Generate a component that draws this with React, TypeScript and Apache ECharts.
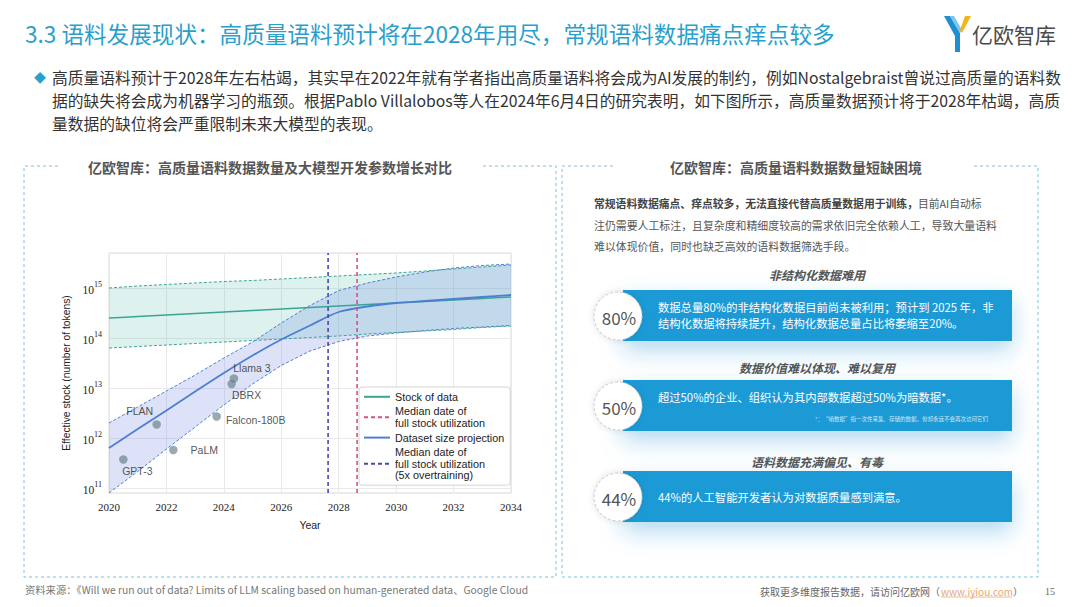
import React, { useEffect, useRef } from "react";
import * as echarts from "echarts";

// ---------- data (exponents of 10) ----------
const years = [2020, 2021, 2022, 2023, 2024, 2025, 2026, 2027, 2028, 2029, 2030, 2031, 2032, 2033, 2034];
const stockMedianExp = [14.40, 14.43, 14.46, 14.49, 14.52, 14.55, 14.58, 14.61, 14.64, 14.67, 14.70, 14.73, 14.76, 14.79, 14.82];
const stockLowExp = [13.80, 13.83, 13.86, 13.89, 13.92, 13.95, 13.98, 14.01, 14.04, 14.08, 14.11, 14.14, 14.17, 14.21, 14.24];
const stockHighExp = [15.00, 15.04, 15.07, 15.10, 15.13, 15.15, 15.18, 15.21, 15.24, 15.27, 15.30, 15.34, 15.38, 15.42, 15.46];
const projMedianExp = [11.80, 12.18, 12.55, 12.93, 13.30, 13.65, 13.97, 14.25, 14.52, 14.63, 14.70, 14.74, 14.78, 14.82, 14.86];
const projLowExp = [10.90, 11.33, 11.78, 12.22, 12.66, 13.08, 13.45, 13.74, 13.93, 14.04, 14.10, 14.15, 14.19, 14.22, 14.25];
const projHighExp = [12.30, 12.62, 12.94, 13.26, 13.60, 13.92, 14.30, 14.65, 14.95, 15.10, 15.22, 15.32, 15.40, 15.45, 15.48];

const modelNames = ["GPT-3", "FLAN", "PaLM", "Falcon-180B", "DBRX", "Llama 3"];
const modelYears = [2020.5, 2021.66, 2022.24, 2023.75, 2024.27, 2024.35];
const modelExp = [11.57, 12.27, 11.76, 12.43, 13.08, 13.19];

const fullUseDate = 2028.64;
const fullUseOvertrainDate = 2027.63;

const yMinExp = 10.9;
const yMaxExp = 15.7;
const xMin = 2020;
const xMax = 2034;

const legendNames = [
  "Stock of data",
  "Median date of full stock utilization",
  "Dataset size projection",
  "Median date of full stock utilization (5x overtraining)",
];
const legendLabels: Record<string, string> = {
  "Stock of data": "Stock of data",
  "Median date of full stock utilization": "Median date of\nfull stock utilization",
  "Dataset size projection": "Dataset size projection",
  "Median date of full stock utilization (5x overtraining)": "Median date of\nfull stock utilization\n(5x overtraining)",
};

// ---------- slide text ----------
const titleText = "3.3 语料发展现状：高质量语料预计将在2028年用尽，常规语料数据痛点痒点较多";
const bulletLines = [
  "高质量语料预计于2028年左右枯竭，其实早在2022年就有学者指出高质量语料将会成为AI发展的制约，例如Nostalgebraist曾说过高质量的语料数",
  "据的缺失将会成为机器学习的瓶颈。根据Pablo Villalobos等人在2024年6月4日的研究表明，如下图所示，高质量数据预计将于2028年枯竭，高质",
  "量数据的缺位将会严重限制未来大模型的表现。",
];
const leftPanelTitle = "亿欧智库：高质量语料数据数量及大模型开发参数增长对比";
const rightPanelTitle = "亿欧智库：高质量语料数据数量短缺困境";
const rightParaBold = "常规语料数据痛点、痒点较多，无法直接代替高质量数据用于训练，";
const rightParaLines = ["目前AI自动标", "注仍需要人工标注，且复杂度和精细度较高的需求依旧完全依赖人工，导致大量语料", "难以体现价值，同时也缺乏高效的语料数据筛选手段。"];
const cardSubtitles = ["非结构化数据难用", "数据价值难以体现、难以复用", "语料数据充满偏见、有毒"];
const cardPercents = ["80%", "50%", "44%"];
const cardLines = [
  ["数据总量80%的非结构化数据目前尚未被利用；预计到 2025 年，非", "结构化数据将持续提升，结构化数据总量占比将萎缩至20%。"],
  ["超过50%的企业、组织认为其内部数据超过50%为暗数据*。"],
  ["44%的人工智能开发者认为对数据质量感到满意。"],
];
const darkDataNote = "*：“暗数据”指一次性采集、存储的数据，但却永远不会再次访问它们";
const sourceText = "资料来源：《Will we run out of data? Limits of LLM scaling based on human-generated data、Google Cloud";
const footerPrefix = "获取更多维度报告数据，请访问亿欧网（";
const footerLink = "www.iyiou.com";
const pageNo = "15";

const p10 = (e: number) => Math.pow(10, e);

const CJK = '"Noto Sans CJK SC", "Noto Sans", sans-serif';
const SANS = '"Liberation Sans", Arial, sans-serif';
const SERIF = '"Liberation Serif", "DejaVu Serif", serif';

const TEAL = "#3aa597";
const TEAL_FILL = "rgba(85,190,175,0.20)";
const BLUE = "#4d7fd0";
const BLUE_FILL = "rgba(100,125,225,0.22)";
const PINK = "#d6517d";
const PURPLE = "#4a47b2";
const BORDER = "#7cc4da";
const CARD = "#1f9ad6";

function buildGraphic() {
  const g: any[] = [];
  // title
  g.push({ type: "text", x: 25, y: 33, style: { text: titleText, fill: "#2a9fcc", fontSize: 22.6, fontFamily: CJK, verticalAlign: "middle" } });
  // logo
  g.push({ type: "polygon", shape: { points: [[944, 16], [950, 16], [960, 33], [960, 52], [955, 52], [955, 36]] }, style: { fill: "#1f8fd2" } });
  g.push({ type: "polygon", shape: { points: [[950, 16], [954, 16], [962, 30], [960, 33]] }, style: { fill: "#7bc6ea" } });
  g.push({ type: "polygon", shape: { points: [[965, 16], [971, 16], [962, 33], [960, 30]] }, style: { fill: "#f2b51c" } });
  g.push({ type: "text", x: 972, y: 34, style: { text: "亿欧智库", fill: "#4a4a4a", fontSize: 21, fontFamily: CJK, verticalAlign: "middle" } });
  // bullet
  g.push({ type: "text", x: 34, y: 77, style: { text: "◆", fill: "#2a9fcc", fontSize: 12, fontFamily: CJK, verticalAlign: "middle" } });
  bulletLines.forEach((t, i) => {
    g.push({ type: "text", x: 52, y: 77 + i * 23, style: { text: t, fill: "#333", fontSize: 15.75, fontFamily: CJK, verticalAlign: "middle" } });
  });
  // panel borders
  const dash = { stroke: BORDER, lineWidth: 1, lineDash: [3, 3], fill: "none" };
  g.push({ type: "polyline", shape: { points: [[58, 166], [24, 166], [24, 577], [556, 577], [556, 166], [482, 166]] }, style: dash });
  g.push({ type: "polyline", shape: { points: [[613, 166], [562, 166], [562, 577], [1038, 577], [1038, 166], [973, 166]] }, style: dash });
  g.push({ type: "text", x: 270, y: 167, style: { text: leftPanelTitle, fill: "#555", fontSize: 14, fontWeight: "bold", fontFamily: CJK, align: "center", verticalAlign: "middle" } });
  g.push({ type: "text", x: 796, y: 167, style: { text: rightPanelTitle, fill: "#555", fontSize: 14, fontWeight: "bold", fontFamily: CJK, align: "center", verticalAlign: "middle" } });
  // right paragraph
  g.push({
    type: "text", x: 594, y: 203,
    style: {
      text: "{b|" + rightParaBold + "}{n|" + rightParaLines[0] + "}",
      fontFamily: CJK, verticalAlign: "middle",
      rich: { b: { fontSize: 10.8, fontWeight: "bold", fill: "#444", fontFamily: CJK }, n: { fontSize: 10.8, fill: "#555", fontFamily: CJK } },
    },
  });
  [rightParaLines[1], rightParaLines[2]].forEach((t, i) => {
    g.push({ type: "text", x: 594, y: 225 + i * 21, style: { text: t, fill: "#555", fontSize: 10.9, fontFamily: CJK, verticalAlign: "middle" } });
  });
  // cards
  const cardTops = [290, 380, 471];
  const subY = [274, 367, 461];
  cardTops.forEach((top, i) => {
    g.push({ type: "text", x: 817, y: subY[i], style: { text: cardSubtitles[i], fill: "#555", fontSize: 12, fontWeight: "bold", fontStyle: "italic", fontFamily: CJK, align: "center", verticalAlign: "middle" } });
    g.push({ type: "rect", shape: { x: 623, y: top, width: 389, height: 51 }, style: { fill: CARD, shadowBlur: 22, shadowOffsetY: 10, shadowColor: "rgba(40,150,215,0.35)" } });
    g.push({ type: "circle", shape: { cx: 618, cy: top + 26, r: 24 }, style: { fill: "#fff", stroke: "#c8c8c8", lineWidth: 1, lineDash: [3, 2], shadowBlur: 6, shadowColor: "rgba(0,0,0,0.12)" } });
    g.push({ type: "text", x: 619, y: top + 27, style: { text: cardPercents[i], fill: "#555", fontSize: 17, fontFamily: CJK, align: "center", verticalAlign: "middle" } });
    const lines = cardLines[i];
    const startY = lines.length === 2 ? top + 17 : top + (i === 1 ? 17 : 26);
    lines.forEach((t, j) => {
      g.push({ type: "text", x: 658, y: startY + j * 16, style: { text: t, fill: "#fff", fontSize: 11.3, fontFamily: CJK, verticalAlign: "middle" } });
    });
  });
  g.push({ type: "text", x: 988, y: 419, style: { text: darkDataNote, fill: "rgba(255,255,255,0.8)", fontSize: 5.5, fontFamily: CJK, align: "right", verticalAlign: "middle" } });
  // footers
  g.push({ type: "text", x: 25, y: 589, style: { text: sourceText, fill: "#777", fontSize: 10.3, fontFamily: CJK, verticalAlign: "middle" } });
  g.push({ type: "text", x: 940, y: 591, style: { text: footerPrefix, fill: "#666", fontSize: 10, fontFamily: CJK, align: "right", verticalAlign: "middle" } });
  g.push({ type: "text", x: 941, y: 591, style: { text: footerLink, fill: "#e8a873", fontSize: 10, fontFamily: CJK, verticalAlign: "middle" } });
  g.push({ type: "line", shape: { x1: 941, y1: 597, x2: 1012, y2: 597 }, style: { stroke: "#e8a873", lineWidth: 0.8 } });
  g.push({ type: "text", x: 1013, y: 591, style: { text: "）", fill: "#666", fontSize: 10, fontFamily: CJK, verticalAlign: "middle" } });
  g.push({ type: "text", x: 1050, y: 591, style: { text: pageNo, fill: "#666", fontSize: 10, fontFamily: SERIF, align: "center", verticalAlign: "middle" } });
  return g;
}

function bandArea(low: number[], high: number[], fill: string, z: number) {
  return {
    type: "custom", z, silent: true, clip: true,
    data: [[years[0], p10(low[0])]],
    renderItem: (_p: any, api: any) => {
      const top = years.map((y, i) => api.coord([y, p10(high[i])]));
      const bottom = years.map((y, i) => api.coord([y, p10(low[i])])).reverse();
      return { type: "polygon", shape: { points: top.concat(bottom) }, style: { fill } };
    },
  };
}

function edgeLine(name: string, vals: number[], color: string, z: number) {
  return {
    type: "line", name, z, symbol: "none", silent: true,
    lineStyle: { color, width: 1, type: [3, 2] },
    data: years.map((y, i) => [y, p10(vals[i])]),
  };
}

const hideSymbol = { opacity: 0 };

function buildOption() {
  const yMin = p10(yMinExp);
  const yMax = p10(yMaxExp);
  return {
    animation: false,
    backgroundColor: "#fff",
    grid: { left: 109, right: 1080 - 511, top: 253, bottom: 607 - 493, show: true, borderColor: "#dadada", borderWidth: 1, backgroundColor: "#fff" },
    xAxis: {
      type: "value", min: xMin, max: xMax, interval: 2,
      name: "Year", nameLocation: "middle", nameGap: 26,
      nameTextStyle: { fontFamily: SANS, fontSize: 10.5, color: "#222" },
      axisLine: { show: false }, axisTick: { show: false },
      axisLabel: { fontFamily: SERIF, fontSize: 11, color: "#222", margin: 8, formatter: (v: number) => String(v) },
      splitLine: { lineStyle: { color: "#e9e9e9" } },
    },
    yAxis: {
      type: "log", logBase: 10, min: yMin, max: yMax,
      name: "Effective stock (number of tokens)", nameLocation: "middle", nameGap: 38,
      nameTextStyle: { fontFamily: SANS, fontSize: 10.3, color: "#222" },
      axisLine: { show: false }, axisTick: { show: false },
      splitLine: { lineStyle: { color: "#e9e9e9" } },
      axisLabel: {
        margin: 7,
        formatter: (v: number) => {
          const e = Math.log10(v);
          const r = Math.round(e);
          if (Math.abs(e - r) > 1e-6) return "";
          return "{b|10}{s|" + r + "}";
        },
        rich: {
          b: { fontFamily: SERIF, fontSize: 11.5, color: "#222", lineHeight: 15, verticalAlign: "bottom" },
          s: { fontFamily: SERIF, fontSize: 8, color: "#222", lineHeight: 9, verticalAlign: "top" },
        },
      },
    },
    legend: {
      data: legendNames,
      orient: "vertical", left: 359, top: 387,
      itemWidth: 26, itemHeight: 10, itemGap: 3,
      padding: [4, 6, 4, 4],
      backgroundColor: "rgba(255,255,255,0.95)", borderColor: "#d4d4d4", borderWidth: 1, borderRadius: 3,
      selectedMode: false,
      formatter: (n: string) => legendLabels[n] || n,
      textStyle: { fontFamily: SANS, fontSize: 10.8, color: "#222", lineHeight: 11.6 },
    },
    graphic: buildGraphic(),
    series: [
      bandArea(stockLowExp, stockHighExp, TEAL_FILL, 1),
      bandArea(projLowExp, projHighExp, BLUE_FILL, 1),
      edgeLine("stock-low", stockLowExp, TEAL, 2),
      edgeLine("stock-high", stockHighExp, TEAL, 2),
      edgeLine("proj-low", projLowExp, BLUE, 3),
      edgeLine("proj-high", projHighExp, BLUE, 3),
      {
        type: "line", name: legendNames[0], z: 4, smooth: 0.3, symbol: "none",
        lineStyle: { color: TEAL, width: 1.5 }, itemStyle: { color: TEAL, ...hideSymbol },
        data: years.map((y, i) => [y, p10(stockMedianExp[i])]),
      },
      {
        type: "line", name: legendNames[2], z: 5, smooth: 0.3, symbol: "none",
        lineStyle: { color: BLUE, width: 1.8 }, itemStyle: { color: BLUE, ...hideSymbol },
        data: years.map((y, i) => [y, p10(projMedianExp[i])]),
      },
      {
        type: "line", name: legendNames[1], z: 6, symbol: "none",
        lineStyle: { color: PINK, width: 1.6, type: [4, 3] }, itemStyle: { color: PINK, ...hideSymbol },
        data: [[fullUseDate, yMin], [fullUseDate, yMax]],
      },
      {
        type: "line", name: legendNames[3], z: 6, symbol: "none",
        lineStyle: { color: PURPLE, width: 1.6, type: [4, 3] }, itemStyle: { color: PURPLE, ...hideSymbol },
        data: [[fullUseOvertrainDate, yMin], [fullUseOvertrainDate, yMax]],
      },
      {
        type: "scatter", name: "models", z: 7, symbolSize: 8.5,
        itemStyle: { color: "rgba(100,125,135,0.82)" },
        label: { show: true, position: "inside", fontFamily: SANS, fontSize: 10.5, color: "#2a2a2a", formatter: (p: any) => p.name },
        data: modelNames.map((n, i) => ({ name: n, value: [modelYears[i], p10(modelExp[i])], label: { offset: labelOffsets[i] } })),
      },
    ],
  };
}

const labelOffsets = [[14, 11], [-17, -14], [31, 0], [39, 3], [15, 11], [18, -11]];

export default function App() {
  const ref = useRef<HTMLDivElement>(null);
  useEffect(() => {
    if (!ref.current) return;
    const chart = echarts.init(ref.current, undefined, { renderer: "svg" });
    chart.setOption(buildOption() as any);
    return () => chart.dispose();
  }, []);
  return <div ref={ref} style={{ position: "absolute", left: 0, top: 0, width: 1080, height: 607, background: "#fff" }} />;
}
